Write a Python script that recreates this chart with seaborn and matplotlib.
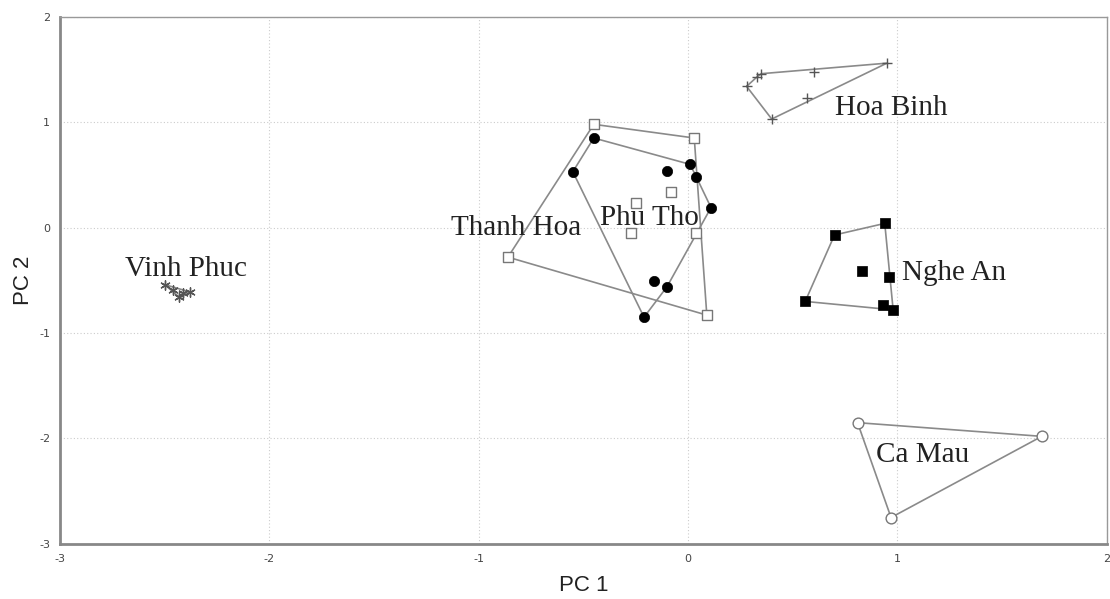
import numpy as np
import pandas as pd
import matplotlib
matplotlib.use("Agg")
import matplotlib.pyplot as plt
import seaborn as sns

# PCA scores, one small array per province
vinh_phuc_pc1 = [-2.50, -2.46, -2.41, -2.38, -2.43]
vinh_phuc_pc2 = [-0.54, -0.59, -0.62, -0.61, -0.66]

hoa_binh_pc1 = [0.28, 0.33, 0.35, 0.60, 0.95, 0.57, 0.40]
hoa_binh_pc2 = [1.34, 1.43, 1.46, 1.48, 1.56, 1.23, 1.03]

thanh_hoa_pc1 = [-0.45, 0.03, -0.08, -0.25, -0.27, 0.04, -0.86, 0.09]
thanh_hoa_pc2 = [0.98, 0.85, 0.34, 0.23, -0.05, -0.05, -0.28, -0.83]

phu_tho_pc1 = [-0.45, -0.55, -0.10, 0.01, 0.04, 0.11, -0.16, -0.10, -0.21]
phu_tho_pc2 = [0.85, 0.53, 0.54, 0.60, 0.48, 0.19, -0.51, -0.56, -0.85]

nghe_an_pc1 = [0.70, 0.94, 0.83, 0.96, 0.56, 0.93, 0.98]
nghe_an_pc2 = [-0.07, 0.04, -0.41, -0.47, -0.70, -0.73, -0.78]

ca_mau_pc1 = [0.81, 1.69, 0.97]
ca_mau_pc2 = [-1.85, -1.98, -2.75]

provinces = ["Vinh Phuc", "Hoa Binh", "Thanh Hoa", "Phu Tho", "Nghe An", "Ca Mau"]
label_x = [-2.69, 0.70, -1.13, -0.42, 1.02, 0.90]
label_y = [-0.39, 1.13, 0.00, 0.09, -0.43, -2.16]

groups = {
    "Vinh Phuc": (vinh_phuc_pc1, vinh_phuc_pc2),
    "Hoa Binh": (hoa_binh_pc1, hoa_binh_pc2),
    "Thanh Hoa": (thanh_hoa_pc1, thanh_hoa_pc2),
    "Phu Tho": (phu_tho_pc1, phu_tho_pc2),
    "Nghe An": (nghe_an_pc1, nghe_an_pc2),
    "Ca Mau": (ca_mau_pc1, ca_mau_pc2),
}

df = pd.concat(
    [pd.DataFrame({"PC1": x, "PC2": y, "province": name}) for name, (x, y) in groups.items()],
    ignore_index=True,
)


def convex_hull(points):
    pts = sorted(set(map(tuple, points)))
    if len(pts) < 3:
        return pts

    def cross(o, a, b):
        return (a[0] - o[0]) * (b[1] - o[1]) - (a[1] - o[1]) * (b[0] - o[0])

    lower, upper = [], []
    for p in pts:
        while len(lower) >= 2 and cross(lower[-2], lower[-1], p) <= 0:
            lower.pop()
        lower.append(p)
    for p in reversed(pts):
        while len(upper) >= 2 and cross(upper[-2], upper[-1], p) <= 0:
            upper.pop()
        upper.append(p)
    return lower[:-1] + upper[:-1]


sns.set_style("white")
plt.rcParams["axes.unicode_minus"] = False
fig, ax = plt.subplots(figsize=(11.1, 5.99), dpi=100)
fig.subplots_adjust(left=0.054, right=0.997, top=0.972, bottom=0.092)

hull_color = "#8a8a8a"
for name in provinces:
    sub = df[df.province == name]
    hull = convex_hull(sub[["PC1", "PC2"]].to_numpy())
    hull = np.array(hull + hull[:1])
    ax.plot(hull[:, 0], hull[:, 1], color=hull_color, lw=1.2, zorder=2)

marker_style = {
    "Vinh Phuc": dict(marker=(6, 2, 0), s=45, color="#555555", linewidth=1.0),
    "Hoa Binh": dict(marker="+", s=55, color="#555555", linewidth=1.0),
    "Thanh Hoa": dict(marker="s", s=55, facecolor="white", edgecolor="#777777", linewidth=1.0),
    "Phu Tho": dict(marker="o", s=55, color="black", edgecolor="black", linewidth=0.5),
    "Nghe An": dict(marker="s", s=55, color="black", edgecolor="black", linewidth=0.5),
    "Ca Mau": dict(marker="o", s=60, facecolor="white", edgecolor="#777777", linewidth=1.0),
}
for name in provinces:
    sub = df[df.province == name]
    sns.scatterplot(data=sub, x="PC1", y="PC2", ax=ax, legend=False, zorder=3, **marker_style[name])

for name, lx, ly in zip(provinces, label_x, label_y):
    ax.text(lx, ly, name, fontsize=21, family="Liberation Serif", color="#222222",
            va="center", ha="left", zorder=4)

ax.set_xlim(-3, 2)
ax.set_ylim(-3, 2)
ax.set_xticks([-3, -2, -1, 0, 1, 2])
ax.set_yticks([-3, -2, -1, 0, 1, 2])
ax.grid(True, color="#cccccc", linestyle=(0, (1, 2)), linewidth=0.8)
ax.tick_params(axis="both", labelsize=8, colors="#444444", length=4, width=0.6,
               direction="out", pad=3)
ax.tick_params(axis="both", color="#bbbbbb")

for side in ["left", "bottom"]:
    ax.spines[side].set_color("#888888")
    ax.spines[side].set_linewidth(2.0)
for side in ["top", "right"]:
    ax.spines[side].set_color("#999999")
    ax.spines[side].set_linewidth(1.0)

ax.set_xlabel("PC 1", fontsize=16, family="Liberation Sans", color="#222222", labelpad=8)
ax.set_ylabel("PC 2", fontsize=16, family="Liberation Sans", color="#222222", labelpad=4)

fig.savefig("out.png", dpi=100)
